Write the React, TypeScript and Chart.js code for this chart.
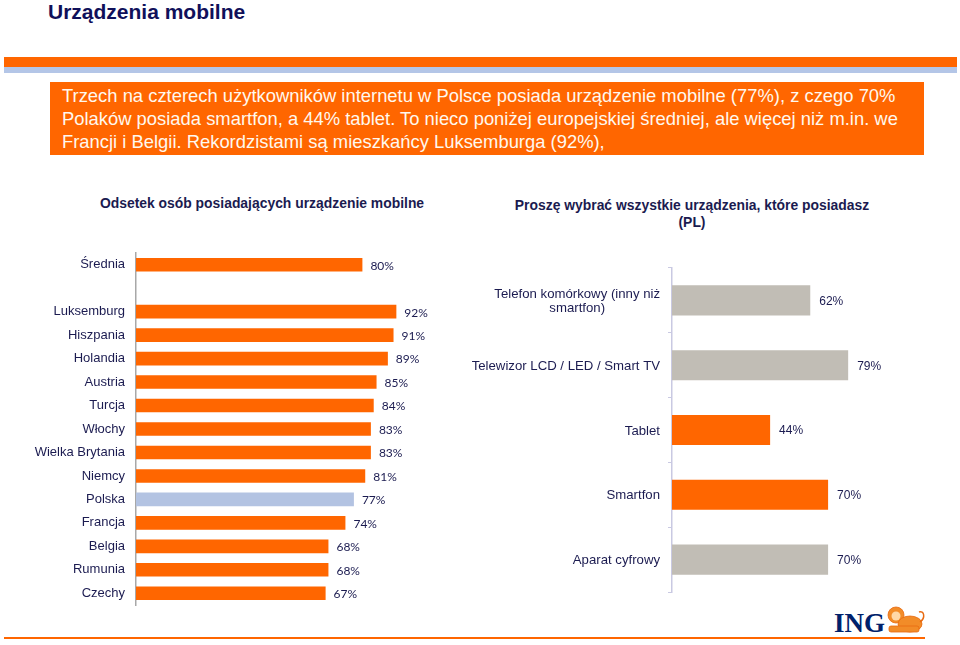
import React, { useEffect, useRef } from 'react';
import { Chart, registerables } from 'chart.js';

Chart.register(...registerables);

// ---- data ----
const countryLabels = ['Średnia', '', 'Luksemburg', 'Hiszpania', 'Holandia', 'Austria', 'Turcja', 'Włochy', 'Wielka Brytania', 'Niemcy', 'Polska', 'Francja', 'Belgia', 'Rumunia', 'Czechy'];
const countryValues = [80, null, 92, 91, 89, 85, 84, 83, 83, 81, 77, 74, 68, 68, 67];
const highlightedCountry = 'Polska';

const deviceLabels = [['Telefon komórkowy (inny niż', 'smartfon)'], 'Telewizor LCD / LED / Smart TV', 'Tablet', 'Smartfon', 'Aparat cyfrowy'];
const deviceValues = [62, 79, 44, 70, 70];
const deviceIsMobile = [false, false, true, true, false];

const titleText = 'Urządzenia mobilne';
const bannerLines = [
  'Trzech na czterech użytkowników internetu w Polsce posiada urządzenie mobilne (77%), z czego 70%',
  'Polaków posiada smartfon, a 44% tablet. To nieco poniżej europejskiej średniej, ale więcej niż m.in. we',
  'Francji i Belgii. Rekordzistami są mieszkańcy Luksemburga (92%),',
];
const leftTitle = 'Odsetek osób posiadających urządzenie mobilne';
const rightTitleLines = ['Proszę wybrać wszystkie urządzenia, które posiadasz', '(PL)'];

// ---- styles ----
const ORANGE = '#ff6600';
const LIGHTBLUE = '#b3c3e2';
const GRAY = '#c1bdb5';
const NAVY = '#1b1b50';
const SANS = '"Liberation Sans", Arial, sans-serif';

const valueLabelPlugin = (font: string, gap: number) => ({
  id: 'valueLabels',
  afterDatasetsDraw(chart: any) {
    const ctx = chart.ctx;
    const meta = chart.getDatasetMeta(0);
    const data = chart.data.datasets[0].data;
    ctx.save();
    ctx.font = font;
    ctx.fillStyle = NAVY;
    ctx.textAlign = 'left';
    ctx.textBaseline = 'middle';
    meta.data.forEach((el: any, i: number) => {
      const v = data[i];
      if (v == null) return;
      ctx.fillText(v + '%', el.x + gap, el.y + 1);
    });
    ctx.restore();
  },
});

const centeredTickLabels = {
  id: 'centeredTickLabels',
  afterDraw(chart: any) {
    const scale = chart.scales.y;
    const ctx = chart.ctx;
    ctx.save();
    ctx.font = '13.2px ' + SANS;
    ctx.fillStyle = NAVY;
    ctx.textBaseline = 'middle';
    ctx.textAlign = 'center';
    const right = scale.right - 12;
    const lh = 14;
    chart.data.labels.forEach((lab: any, i: number) => {
      const lines: string[] = Array.isArray(lab) ? lab : [lab];
      const w = Math.max(...lines.map((l) => ctx.measureText(l).width));
      const cx = right - w / 2;
      const y0 = scale.getPixelForTick(i) - ((lines.length - 1) * lh) / 2;
      lines.forEach((l, j) => ctx.fillText(l, cx, y0 + j * lh + 1));
    });
    ctx.restore();
  },
};

const fixAxis = (width: number) => (s: any) => {
  s.width = width;
  s.paddingTop = 0;
  s.paddingBottom = 0;
  s.paddingLeft = 0;
  s.paddingRight = 0;
};

function CountryChart() {
  const ref = useRef<HTMLCanvasElement>(null);
  useEffect(() => {
    const chart = new Chart(ref.current as HTMLCanvasElement, {
      type: 'bar',
      data: {
        labels: countryLabels,
        datasets: [
          {
            data: countryValues as any,
            backgroundColor: countryLabels.map((l) => (l === highlightedCountry ? LIGHTBLUE : ORANGE)),
            barPercentage: 0.58,
            categoryPercentage: 1,
          },
        ],
      },
      options: {
        indexAxis: 'y',
        animation: false,
        responsive: false,
        layout: { padding: { top: 10, bottom: 10, left: 0, right: 21 } },
        plugins: { legend: { display: false }, tooltip: { enabled: false } },
        scales: {
          x: { display: false, min: 0, max: 100 },
          y: {
            afterFit: fixAxis(136),
            grid: { display: false, drawTicks: false },
            border: { display: true, color: '#a8a8a8', width: 1.5 },
            ticks: { color: NAVY, font: { size: 13, family: SANS }, padding: 11 },
          },
        },
      },
      plugins: [valueLabelPlugin('12px Lato, "Liberation Sans", sans-serif', 8)],
    });
    return () => chart.destroy();
  }, []);
  return <canvas ref={ref} width={440} height={372} style={{ position: 'absolute', left: 0, top: 243 }} />;
}

function DeviceChart() {
  const ref = useRef<HTMLCanvasElement>(null);
  useEffect(() => {
    const chart = new Chart(ref.current as HTMLCanvasElement, {
      type: 'bar',
      data: {
        labels: deviceLabels as any,
        datasets: [
          {
            data: deviceValues,
            backgroundColor: deviceIsMobile.map((m) => (m ? ORANGE : GRAY)),
            barPercentage: 0.465,
            categoryPercentage: 1,
          },
        ],
      },
      options: {
        indexAxis: 'y',
        animation: false,
        responsive: false,
        layout: { padding: { top: 10, bottom: 10, left: 0, right: 45 } },
        plugins: { legend: { display: false }, tooltip: { enabled: false } },
        scales: {
          x: { display: false, min: 0, max: 100 },
          y: {
            afterFit: fixAxis(212),
            grid: { display: true, drawOnChartArea: false, drawTicks: true, tickLength: 4, color: '#c9c9e2', offset: true },
            border: { display: true, color: '#c9c9e2', width: 1.5 },
            ticks: { color: 'rgba(0,0,0,0)', font: { size: 13, family: SANS } },
          },
        },
      },
      plugins: [valueLabelPlugin('12px ' + SANS, 9), centeredTickLabels],
    });
    return () => chart.destroy();
  }, []);
  return <canvas ref={ref} width={480} height={344} style={{ position: 'absolute', left: 460, top: 258 }} />;
}

function Lion() {
  return (
    <svg width={40} height={30} viewBox="0 0 40 30" style={{ position: 'absolute', left: 886, top: 604 }}>
      <g fill="#f28c28" stroke="#e86a10" strokeWidth={0.8}>
        <circle cx={10} cy={11} r={8} />
        <ellipse cx={24} cy={20} rx={12} ry={8} />
        <rect x={3} y={22} width={30} height={6} rx={2} />
      </g>
      <g fill="#ffd9a8">
        <circle cx={10} cy={12} r={4.5} />
      </g>
      <path d="M34 18 C40 14 38 6 33 8" fill="none" stroke="#e86a10" strokeWidth={1.5} />
    </svg>
  );
}

export default function App() {
  return (
    <div style={{ position: 'absolute', left: 0, top: 0, width: 960, height: 645, background: '#fff', overflow: 'hidden', fontFamily: SANS }}>
      <div style={{ position: 'absolute', left: 48, top: 1, fontSize: 21, lineHeight: '21px', fontWeight: 'bold', color: '#10105a', whiteSpace: 'nowrap' }}>
        {titleText}
      </div>
      <div style={{ position: 'absolute', left: 4, top: 57, width: 953, height: 10, background: ORANGE }} />
      <div style={{ position: 'absolute', left: 4, top: 67, width: 953, height: 6, background: '#b4c6e7' }} />
      <div
        style={{
          position: 'absolute',
          left: 50,
          top: 82,
          width: 874,
          height: 73,
          background: ORANGE,
          color: '#fff8ee',
          fontSize: 18.4,
          lineHeight: '23px',
          paddingLeft: 12,
          paddingTop: 2,
          boxSizing: 'border-box',
          whiteSpace: 'nowrap',
          overflow: 'hidden',
        }}
      >
        {bannerLines.map((l, i) => (
          <div key={i}>{l}</div>
        ))}
      </div>
      <div style={{ position: 'absolute', left: 62, width: 400, top: 195, textAlign: 'center', fontSize: 13.9, lineHeight: '16px', fontWeight: 'bold', color: NAVY, whiteSpace: 'nowrap' }}>
        {leftTitle}
      </div>
      <div style={{ position: 'absolute', left: 472, width: 440, top: 197, textAlign: 'center', fontSize: 13.9, lineHeight: '17px', fontWeight: 'bold', color: NAVY, whiteSpace: 'nowrap' }}>
        {rightTitleLines.map((l, i) => (
          <div key={i}>{l}</div>
        ))}
      </div>
      <CountryChart />
      <DeviceChart />
      <div style={{ position: 'absolute', left: 834, top: 610, fontFamily: '"Liberation Serif", serif', fontWeight: 'bold', fontSize: 27, lineHeight: '27px', color: '#00216b' }}>
        ING
      </div>
      <Lion />
      <div style={{ position: 'absolute', left: 4, top: 637, width: 921, height: 2, background: ORANGE }} />
    </div>
  );
}
